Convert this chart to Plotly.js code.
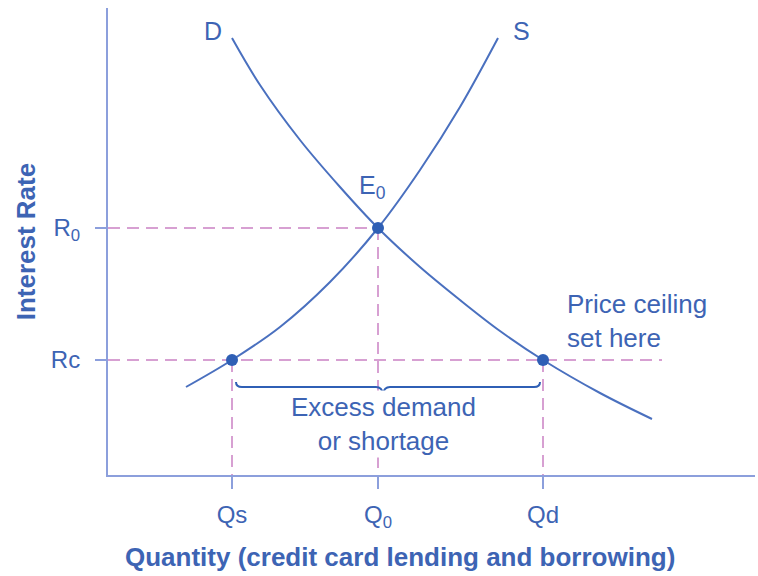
<!DOCTYPE html>
<html>
<head>
<meta charset="utf-8">
<script src="https://cdn.plot.ly/plotly-3.0.1.min.js"></script>
<style>html,body{margin:0;padding:0;background:#fff;}#chart{width:758px;height:576px;}</style>
</head>
<body>
<div id="chart"></div>
<script>
// Quantity (x) and interest rate (y) in chart units
const demandQ = [124, 152, 192, 232, 270, 312, 352, 392, 435, 492, 544];
const demandR = [437, 390, 335, 288, 247, 208, 175, 144, 115, 82, 56];
const supplyQ = [78, 124, 172, 222, 270, 312, 352, 390];
const supplyR = [88, 115, 148, 193, 247, 305, 368, 437];
const pointQ = [124, 270, 435];
const pointR = [115, 247, 115];
const qTickVals = [124, 270, 435];
const qTickText = ['Qs', 'Q<sub>0</sub>', 'Qd'];
const rTickVals = [115, 247];
const rTickText = ['Rc', 'R<sub>0</sub>'];
const Q0 = 270, R0 = 247, Qs = 124, Qd = 435, Rc = 115;
const ceilingEnd = 554;

const blue = '#4a70bf';
const dot = '#2f5fb5';
const txt = '#3d64b4';
const axisCol = '#8c9fdc';
const pink = '#d7a0d2';
const font = 'Liberation Sans, Arial, sans-serif';
const dashStyle = '12px,7px';

const traces = [
  {x:[0, Q0], y:[R0, R0], mode:'lines', line:{color:pink, width:2, dash:dashStyle}, hoverinfo:'skip'},
  {x:[0, ceilingEnd], y:[Rc, Rc], mode:'lines', line:{color:pink, width:2, dash:dashStyle}, hoverinfo:'skip'},
  {x:[Qs, Qs], y:[Rc, 0], mode:'lines', line:{color:pink, width:2, dash:dashStyle}, hoverinfo:'skip'},
  {x:[Q0, Q0], y:[R0, 0], mode:'lines', line:{color:pink, width:2, dash:dashStyle}, hoverinfo:'skip'},
  {x:[Qd, Qd], y:[Rc, 0], mode:'lines', line:{color:pink, width:2, dash:dashStyle}, hoverinfo:'skip'},
  {x:demandQ, y:demandR, mode:'lines', line:{color:blue, width:2, shape:'spline'}},
  {x:supplyQ, y:supplyR, mode:'lines', line:{color:blue, width:2, shape:'spline'}},
  {x:pointQ, y:pointR, mode:'markers', marker:{color:dot, size:12}}
];

const layout = {
  width:758, height:576,
  margin:{l:108, r:3, t:8, b:101},
  paper_bgcolor:'#fff', plot_bgcolor:'#fff',
  showlegend:false,
  font:{family:font, color:txt},
  xaxis:{range:[0,647], showgrid:false, zeroline:false, showline:true, linecolor:axisCol, linewidth:2,
    tickvals:qTickVals, ticktext:qTickText, ticks:'outside', ticklen:12, tickwidth:2, tickcolor:axisCol,
    tickfont:{size:24, color:txt, family:font}, ticklabelstandoff:5, fixedrange:true},
  yaxis:{range:[0,467], showgrid:false, zeroline:false, showline:true, linecolor:axisCol, linewidth:2,
    tickvals:rTickVals, ticktext:rTickText, ticks:'outside', ticklen:11, tickwidth:2, tickcolor:axisCol,
    tickfont:{size:24, color:txt, family:font}, ticklabelstandoff:10, fixedrange:true},
  shapes:[
    {type:'path', xref:'x', yref:'y', line:{color:dot, width:2},
     path:'M 128,93 Q 128,88 134,88 L 268,88 Q 274,88 275,81 Q 276,88 282,88 L 426,88 Q 432,88 432,93'}
  ],
  annotations:[
    {xref:'paper', yref:'paper', x:-0.127, y:0.5, xanchor:'center', yanchor:'middle', text:'<b>Interest Rate</b>', textangle:-90, showarrow:false, font:{size:26, color:txt}},
    {xref:'x', yref:'paper', x:292, y:-0.175, xanchor:'center', yanchor:'middle', text:'<b>Quantity (credit card lending and borrowing)</b>', showarrow:false, font:{size:26, color:txt}},
    {xref:'x', yref:'y', x:105, y:444, text:'D', showarrow:false, font:{size:25, color:txt}},
    {xref:'x', yref:'y', x:413, y:444, text:'S', showarrow:false, font:{size:25, color:txt}},
    {xref:'x', yref:'y', x:264, y:288, text:'E<sub>0</sub>', showarrow:false, font:{size:25, color:txt}},
    {xref:'x', yref:'y', x:457, y:154, xanchor:'left', align:'left', text:'Price ceiling<br>set here', showarrow:false, font:{size:26, color:txt}},
    {xref:'x', yref:'y', x:275, y:51, xanchor:'center', align:'center', text:'Excess demand<br>or shortage', showarrow:false, bgcolor:'#ffffff', font:{size:26, color:txt}}
  ]
};

Plotly.newPlot('chart', traces, layout, {displayModeBar:false, staticPlot:true});
</script>
</body>
</html>
